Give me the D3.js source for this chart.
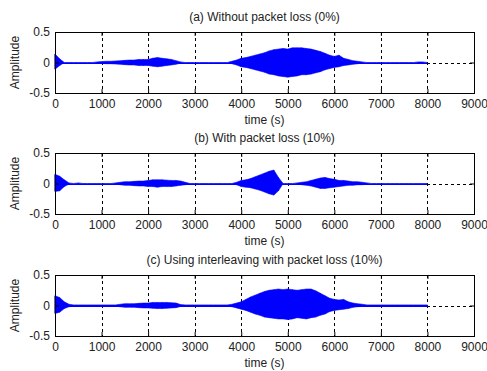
<!DOCTYPE html>
<html>
<head>
<meta charset="utf-8">
<script src="https://cdn.jsdelivr.net/npm/d3@7"></script>
<style>
  body { margin: 0; background: #fff; }
  text { font-family: "Liberation Sans", Arial, sans-serif; fill: #222; }
</style>
</head>
<body>
<div id="graph"></div>
<script>
// panel titles
let titles = [
  "(a) Without packet loss (0%)",
  "(b) With packet loss (10%)",
  "(c)  Using interleaving with packet loss (10%)"
];

let xTicks = [0, 1000, 2000, 3000, 4000, 5000, 6000, 7000, 8000, 9000];
let yTicks = [-0.5, 0, 0.5];
let yTickLabels = ["-0.5", "0", "0.5"];

// envelope of the waveform, one value every 100 samples (0 .. 8000)
let sampleStep = 100;

let aHigh = [0.14, 0.06, 0, 0, 0, 0, 0, 0, 0, 0.01,
  0.015, 0.02, 0.02, 0.025, 0.03, 0.035, 0.04, 0.04, 0.05, 0.05,
  0.05, 0.07, 0.08, 0.07, 0.06, 0.05, 0.03, 0.01, 0, 0,
  0, 0, 0, 0, 0, 0, 0, 0, 0.02, 0.04,
  0.07, 0.08, 0.1, 0.12, 0.14, 0.16, 0.19, 0.21, 0.22, 0.23,
  0.22, 0.24, 0.24, 0.24, 0.23, 0.22, 0.2, 0.18, 0.15, 0.12,
  0.1, 0.12, 0.07, 0.05, 0.03, 0.02, 0.01, 0, 0, 0,
  0, 0, 0, 0, 0, 0, 0, 0, 0.01, 0.01, 0];
let aLow = [-0.11, -0.05, 0, 0, 0, 0, 0, 0, 0, -0.01,
  -0.015, -0.02, -0.02, -0.025, -0.03, -0.035, -0.04, -0.04, -0.05, -0.05,
  -0.05, -0.06, -0.07, -0.06, -0.05, -0.04, -0.03, -0.01, 0, 0,
  0, 0, 0, 0, 0, 0, 0, 0, -0.02, -0.04,
  -0.07, -0.08, -0.1, -0.12, -0.14, -0.16, -0.19, -0.2, -0.22, -0.23,
  -0.24, -0.23, -0.22, -0.2, -0.2, -0.19, -0.17, -0.15, -0.12, -0.1,
  -0.08, -0.07, -0.05, -0.04, -0.03, -0.02, -0.01, 0, 0, 0,
  0, 0, 0, 0, 0, 0, 0, 0, -0.01, -0.01, 0];

let bHigh = [0.15, 0.12, 0.06, 0.01, 0, 0.01, 0, 0, 0, 0,
  0, 0, 0, 0.01, 0.02, 0.03, 0.03, 0.035, 0.04, 0.04,
  0.05, 0.06, 0.06, 0.06, 0.055, 0.05, 0.05, 0.04, 0.02, 0,
  0, 0, 0, 0, 0, 0, 0, 0, 0, 0.02,
  0.05, 0.06, 0.08, 0.11, 0.14, 0.17, 0.2, 0.22, 0.1, 0,
  0, 0, 0.01, 0.02, 0.03, 0.05, 0.07, 0.09, 0.1, 0.08,
  0.07, 0.05, 0.05, 0.04, 0.03, 0.03, 0.02, 0.01, 0, 0,
  0, 0, 0, 0, 0, 0, 0, 0, 0, 0, 0];
let bLow = [-0.13, -0.12, -0.05, -0.01, 0, -0.01, 0, 0, 0, 0,
  0, 0, 0, -0.01, -0.02, -0.03, -0.03, -0.035, -0.04, -0.04,
  -0.05, -0.05, -0.06, -0.05, -0.05, -0.05, -0.04, -0.03, -0.02, 0,
  0, 0, 0, 0, 0, 0, 0, 0, 0, -0.02,
  -0.05, -0.06, -0.07, -0.09, -0.11, -0.14, -0.17, -0.19, -0.12, 0,
  0, 0, -0.01, -0.02, -0.03, -0.04, -0.06, -0.08, -0.08, -0.07,
  -0.06, -0.05, -0.04, -0.03, -0.03, -0.02, -0.02, -0.01, 0, 0,
  0, 0, 0, 0, 0, 0, 0, 0, 0, 0, 0];

let cHigh = [0.16, 0.13, 0.06, 0.02, 0.01, 0.01, 0.01, 0.01, 0.01, 0.01,
  0.01, 0.01, 0.01, 0.01, 0.02, 0.03, 0.03, 0.03, 0.035, 0.04,
  0.04, 0.05, 0.05, 0.05, 0.05, 0.045, 0.04, 0.015, 0.01, 0.01,
  0.01, 0.01, 0.01, 0.01, 0.01, 0.01, 0.01, 0.01, 0.02, 0.04,
  0.06, 0.1, 0.14, 0.17, 0.2, 0.23, 0.25, 0.26, 0.27, 0.26,
  0.27, 0.26, 0.25, 0.26, 0.27, 0.27, 0.24, 0.2, 0.16, 0.12,
  0.1, 0.09, 0.1, 0.06, 0.04, 0.03, 0.02, 0.01, 0.01, 0.01,
  0.01, 0.01, 0.01, 0.01, 0.01, 0.01, 0.01, 0.01, 0.01, 0.01, 0.01];
let cLow = [-0.13, -0.11, -0.05, -0.02, -0.01, -0.01, -0.01, -0.01, -0.01, -0.01,
  -0.01, -0.01, -0.01, -0.01, -0.02, -0.03, -0.03, -0.03, -0.035, -0.04,
  -0.04, -0.045, -0.05, -0.05, -0.045, -0.04, -0.035, -0.015, -0.01, -0.01,
  -0.01, -0.01, -0.01, -0.01, -0.01, -0.01, -0.01, -0.01, -0.02, -0.04,
  -0.06, -0.08, -0.11, -0.14, -0.16, -0.19, -0.2, -0.21, -0.22, -0.22,
  -0.23, -0.22, -0.2, -0.21, -0.22, -0.2, -0.19, -0.16, -0.14, -0.1,
  -0.08, -0.07, -0.06, -0.05, -0.03, -0.02, -0.015, -0.01, -0.01, -0.01,
  -0.01, -0.01, -0.01, -0.01, -0.01, -0.01, -0.01, -0.01, -0.01, -0.01, -0.01];

let highs = [aHigh, bHigh, cHigh];
let lows = [aLow, bLow, cLow];

let svgWidth = 487, svgHeight = 371;
let plotLeft = 55, plotRight = 474, plotHeight = 61;
let panelTops = [32, 153, 275];
let blue = "#0000ff";
let fontSize = "12px";

let svg = d3.select("#graph")
  .append("svg")
  .attr("width", svgWidth)
  .attr("height", svgHeight);

let xScale = d3.scaleLinear()
  .domain([0, 9000])
  .range([plotLeft, plotRight]);

function drawPanel(k) {
  let top = panelTops[k];
  let bottom = top + plotHeight;
  let yScale = d3.scaleLinear()
    .domain([-0.5, 0.5])
    .range([bottom, top]);
  let zeroY = Math.round(yScale(0)) + 0.5;

  let g = svg.append("g");

  // grid (dashed, like matlab "grid on")
  g.selectAll(".vgrid")
    .data(xTicks.slice(1, -1))
    .enter().append("line")
    .attr("x1", d => Math.round(xScale(d)) + 0.5).attr("x2", d => Math.round(xScale(d)) + 0.5)
    .attr("y1", top).attr("y2", bottom)
    .attr("stroke", "#000")
    .attr("stroke-dasharray", "3,3");
  g.append("line")
    .attr("x1", plotLeft).attr("x2", plotRight)
    .attr("y1", zeroY).attr("y2", zeroY)
    .attr("stroke", "#000")
    .attr("stroke-dasharray", "3,3");

  // waveform
  let hi = highs[k], lo = lows[k];
  let pts = hi.map((v, i) => ({ t: i * sampleStep, hi: v, lo: lo[i] }));

  g.append("line")
    .attr("x1", xScale(0)).attr("x2", xScale(pts[pts.length - 1].t))
    .attr("y1", zeroY).attr("y2", zeroY)
    .attr("stroke", blue)
    .attr("stroke-width", 1);

  let area = d3.area()
    .x(d => xScale(d.t))
    .y0(d => yScale(d.lo))
    .y1(d => yScale(d.hi));

  g.append("path")
    .datum(pts)
    .attr("d", area)
    .attr("fill", blue)
    .attr("stroke", blue)
    .attr("stroke-width", 0.6);

  g.selectAll(".spike")
    .data(pts.filter(d => d.hi > 0.03))
    .enter().append("line")
    .attr("x1", d => xScale(d.t)).attr("x2", d => xScale(d.t))
    .attr("y1", d => yScale(d.hi)).attr("y2", d => yScale(d.lo))
    .attr("stroke", blue)
    .attr("stroke-width", 1);

  // axes
  let xAxis = d3.axisBottom(xScale)
    .tickValues(xTicks)
    .tickSizeInner(-4)
    .tickSizeOuter(0)
    .tickPadding(6)
    .tickFormat(d3.format("d"));
  let gx = g.append("g")
    .attr("transform", `translate(0, ${bottom})`)
    .call(xAxis);
  gx.select(".domain").remove();
  gx.selectAll("text").style("font-size", fontSize);

  let gxTop = g.append("g")
    .attr("transform", `translate(0, ${top})`)
    .call(d3.axisTop(xScale).tickValues(xTicks).tickSizeInner(-4).tickSizeOuter(0).tickFormat(""));
  gxTop.select(".domain").remove();

  let yAxis = d3.axisLeft(yScale)
    .tickValues(yTicks)
    .tickSizeInner(-4)
    .tickSizeOuter(0)
    .tickPadding(5)
    .tickFormat((d, i) => yTickLabels[i]);
  let gy = g.append("g")
    .attr("transform", `translate(${plotLeft}, 0)`)
    .call(yAxis);
  gy.select(".domain").remove();
  gy.selectAll("text").style("font-size", fontSize);

  let gyRight = g.append("g")
    .attr("transform", `translate(${plotRight}, 0)`)
    .call(d3.axisRight(yScale).tickValues(yTicks).tickSizeInner(-4).tickSizeOuter(0).tickFormat(""));
  gyRight.select(".domain").remove();

  // box
  g.append("rect")
    .attr("x", plotLeft + 0.5).attr("y", top + 0.5)
    .attr("width", plotRight - plotLeft).attr("height", plotHeight)
    .attr("fill", "none")
    .attr("stroke", "#000");

  // labels
  g.append("text")
    .attr("x", (plotLeft + plotRight) / 2)
    .attr("y", top - 11)
    .attr("text-anchor", "middle")
    .style("font-size", fontSize)
    .text(titles[k]);

  g.append("text")
    .attr("x", (plotLeft + plotRight) / 2)
    .attr("y", bottom + 31)
    .attr("text-anchor", "middle")
    .style("font-size", fontSize)
    .text("time (s)");

  g.append("text")
    .attr("transform", `translate(19, ${(top + bottom) / 2}) rotate(-90)`)
    .attr("text-anchor", "middle")
    .style("font-size", fontSize)
    .text("Amplitude");
}

titles.forEach((t, k) => drawPanel(k));
</script>
</body>
</html>
